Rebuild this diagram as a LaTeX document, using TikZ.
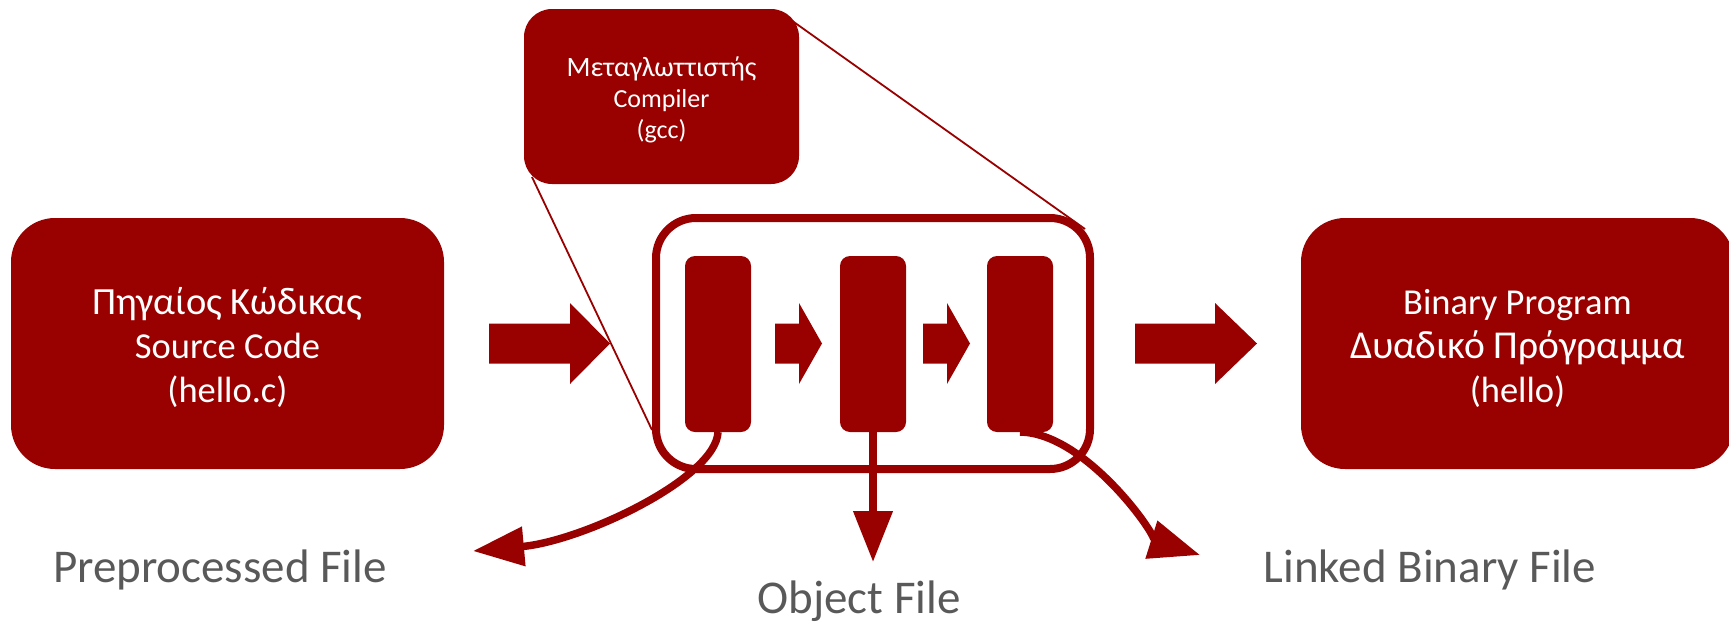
\documentclass[tikz,border=0pt]{standalone}
\usepackage{fontspec}
\setmainfont{Carlito}
\usetikzlibrary{arrows.meta,calc}
\definecolor{dred}{RGB}{153,0,0}
\definecolor{lgray}{RGB}{89,89,89}
\newcommand\fsz[1]{\fontsize{#1}{#1}\selectfont}
\begin{document}
\begin{tikzpicture}[x=1pt,y=-1pt,
  bigbox/.style={fill=dred, inner sep=0, outer sep=0, minimum width=433pt, minimum height=251pt, rounded corners=44pt},
  cmpbox/.style={fill=dred, inner sep=0, outer sep=0, minimum width=275pt, minimum height=175pt, rounded corners=28pt},
  stagebox/.style={fill=dred, inner sep=0, outer sep=0, minimum width=66pt, minimum height=176pt, rounded corners=10pt},
  framebox/.style={draw=dred, line width=8pt, inner sep=0, outer sep=0, minimum width=434pt, minimum height=251pt, rounded corners=40pt},
  boxtext/.style={text=white, anchor=base, inner sep=0},
  outtext/.style={text=lgray, anchor=base, inner sep=0, font=\fsz{47}},
  flow/.style={draw=dred, line width=7.5pt, -{Triangle[length=51pt,width=38pt]}},
  callout/.style={draw=dred, line width=1.8pt},
  blockfill/.style={fill=dred}]
\useasboundingbox (0,0) rectangle (1729,624);
\clip (0,0) rectangle (1729,624);

% main boxes
\node[bigbox] (src) at (227.5,343.5) {};
\node[bigbox] (bin) at (1517.5,343.5) {};
\node[cmpbox] (cmp) at (661.5,96.5) {};
\node[framebox] (cont) at (873,343.5) {};

% stages
\node[stagebox] (r1) at (718,344) {};
\node[stagebox] (r2) at (873,344) {};
\node[stagebox] (r3) at (1020,344) {};

% block arrows
\fill[blockfill] (489,323.5) -- (570,323.5) -- (570,303) -- (610,343.5) -- (570,384) -- (570,363.5) -- (489,363.5) -- cycle;
\fill[blockfill] (1135,323.5) -- (1215,323.5) -- (1215,303) -- (1257,343.5) -- (1215,384) -- (1215,363.5) -- (1135,363.5) -- cycle;
\fill[blockfill] (775,323.5) -- (799,323.5) -- (799,303) -- (822,343.5) -- (799,384) -- (799,363.5) -- (775,363.5) -- cycle;
\fill[blockfill] (923,323.5) -- (947,323.5) -- (947,303) -- (970,343.5) -- (947,384) -- (947,363.5) -- (923,363.5) -- cycle;

% callout lines
\draw[callout] ($(cmp.south west)+(8,-7)$) -- ($(cont.south west)+(-4,-39)$);
\draw[callout] ($(cmp.north east)+(-8,11)$) -- ($(cont.north east)+(-5,11)$);

% texts in boxes
\node[boxtext, font=\fsz{38.5}] (s1) at (227.5,314) {Πηγαίος Κώδικας};
\node[boxtext, font=\fsz{36.5}] (s2) at (227.5,358) {Source Code};
\node[boxtext, font=\fsz{36.5}] (s3) at (227.5,402) {(hello.c)};
\node[boxtext, font=\fsz{36.5}] (b1) at (1517.5,314) {Binary Program};
\node[boxtext, font=\fsz{39.5}] (b2) at (1517.5,358) {Δυαδικό Πρόγραμμα};
\node[boxtext, font=\fsz{36.5}] (b3) at (1517.5,402) {(hello)};
\node[boxtext, font=\fsz{28}] (c1) at (661.5,76) {Μεταγλωττιστής};
\node[boxtext, font=\fsz{26}] (c2) at (661.5,107) {Compiler};
\node[boxtext, font=\fsz{26}] (c3) at (661.5,138) {(gcc)};

% outputs
\coordinate (ppend) at (473,551);
\coordinate (objend) at (873,562);
\coordinate (lbend) at (1200,555);
\draw[flow] (r1.south) .. controls (716,478) and (583,541) .. (ppend);
\draw[flow] (r2.south) -- (objend);
\draw[flow] (r3.south) .. controls (1088,433) and (1162,543) .. (lbend);

\node[outtext] (pp) at (220,582) {Preprocessed File};
\node[outtext] (ob) at (859,613) {Object File};
\node[outtext] (lb) at (1430,582) {Linked Binary File};
\end{tikzpicture}
\end{document}
